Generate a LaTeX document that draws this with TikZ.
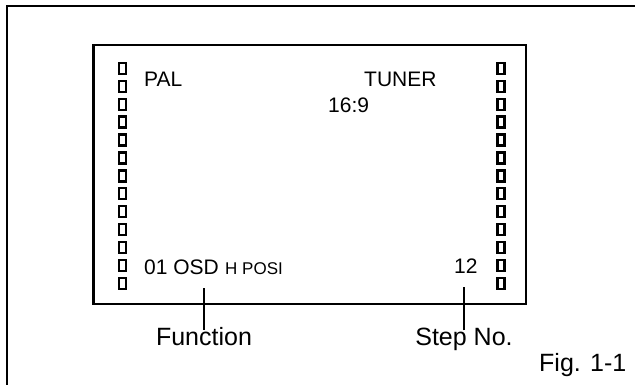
\documentclass[tikz,border=0pt]{standalone}
\usepackage{fontspec}
\setmainfont{Liberation Sans}
\tikzset{
  osdtxt/.style={inner sep=0pt, font=\fontsize{21}{24}\selectfont},
  osdsmall/.style={inner sep=0pt, font=\fontsize{17}{20}\selectfont},
  callout/.style={inner sep=0pt, font=\fontsize{25}{29}\selectfont},
  pixel/.style={line width=2.4pt}
}
\begin{document}
\begin{tikzpicture}[x=1pt, y=-1pt]
      \useasboundingbox (0,0) rectangle (635,385);
      % page frame, open at right and bottom
      \draw[line width=2.6pt] (7,385) -- (7,6) -- (635,6);
      % screen
      \draw[line width=2.6pt] (93.7,45) rectangle (526,304);
      % pixel columns
      \foreach \k in {0,...,12}{
        \draw[pixel] (119,{63+17.9*\k}) rectangle ++(7,11);
        \draw[pixel] (497.5,{63+17.9*\k}) rectangle ++(7,11);
      }
      % screen texts
      \node[osdtxt, anchor=base west] (pal) at (144,87) {PAL};
      \node[osdtxt, anchor=base west] (tuner) at (364,87) {TUNER};
      \node[osdtxt, anchor=base west] (aspect) at (328,113) {16:9};
      \node[osdtxt, anchor=base west] (osd) at (144,274) {01 OSD};
      \node[osdsmall, anchor=base west] (hposi) at (225,274) {H POSI};
      \node[osdtxt, anchor=base west] (stepval) at (454,273) {12};
      % callouts
      \node[callout, anchor=base] (func) at (204,345) {Function};
      \node[callout, anchor=base] (stepno) at (464,345) {Step No.};
      \node[callout, anchor=base west] (fig) at (539,371) {Fig. 1-1};
      \draw[line width=2.4pt] ([yshift=-3pt]func.north) -- ++(0,-42);
      \draw[line width=2.4pt] ([yshift=-3pt]stepno.north) -- ++(0,-43);
\end{tikzpicture}
\end{document}
